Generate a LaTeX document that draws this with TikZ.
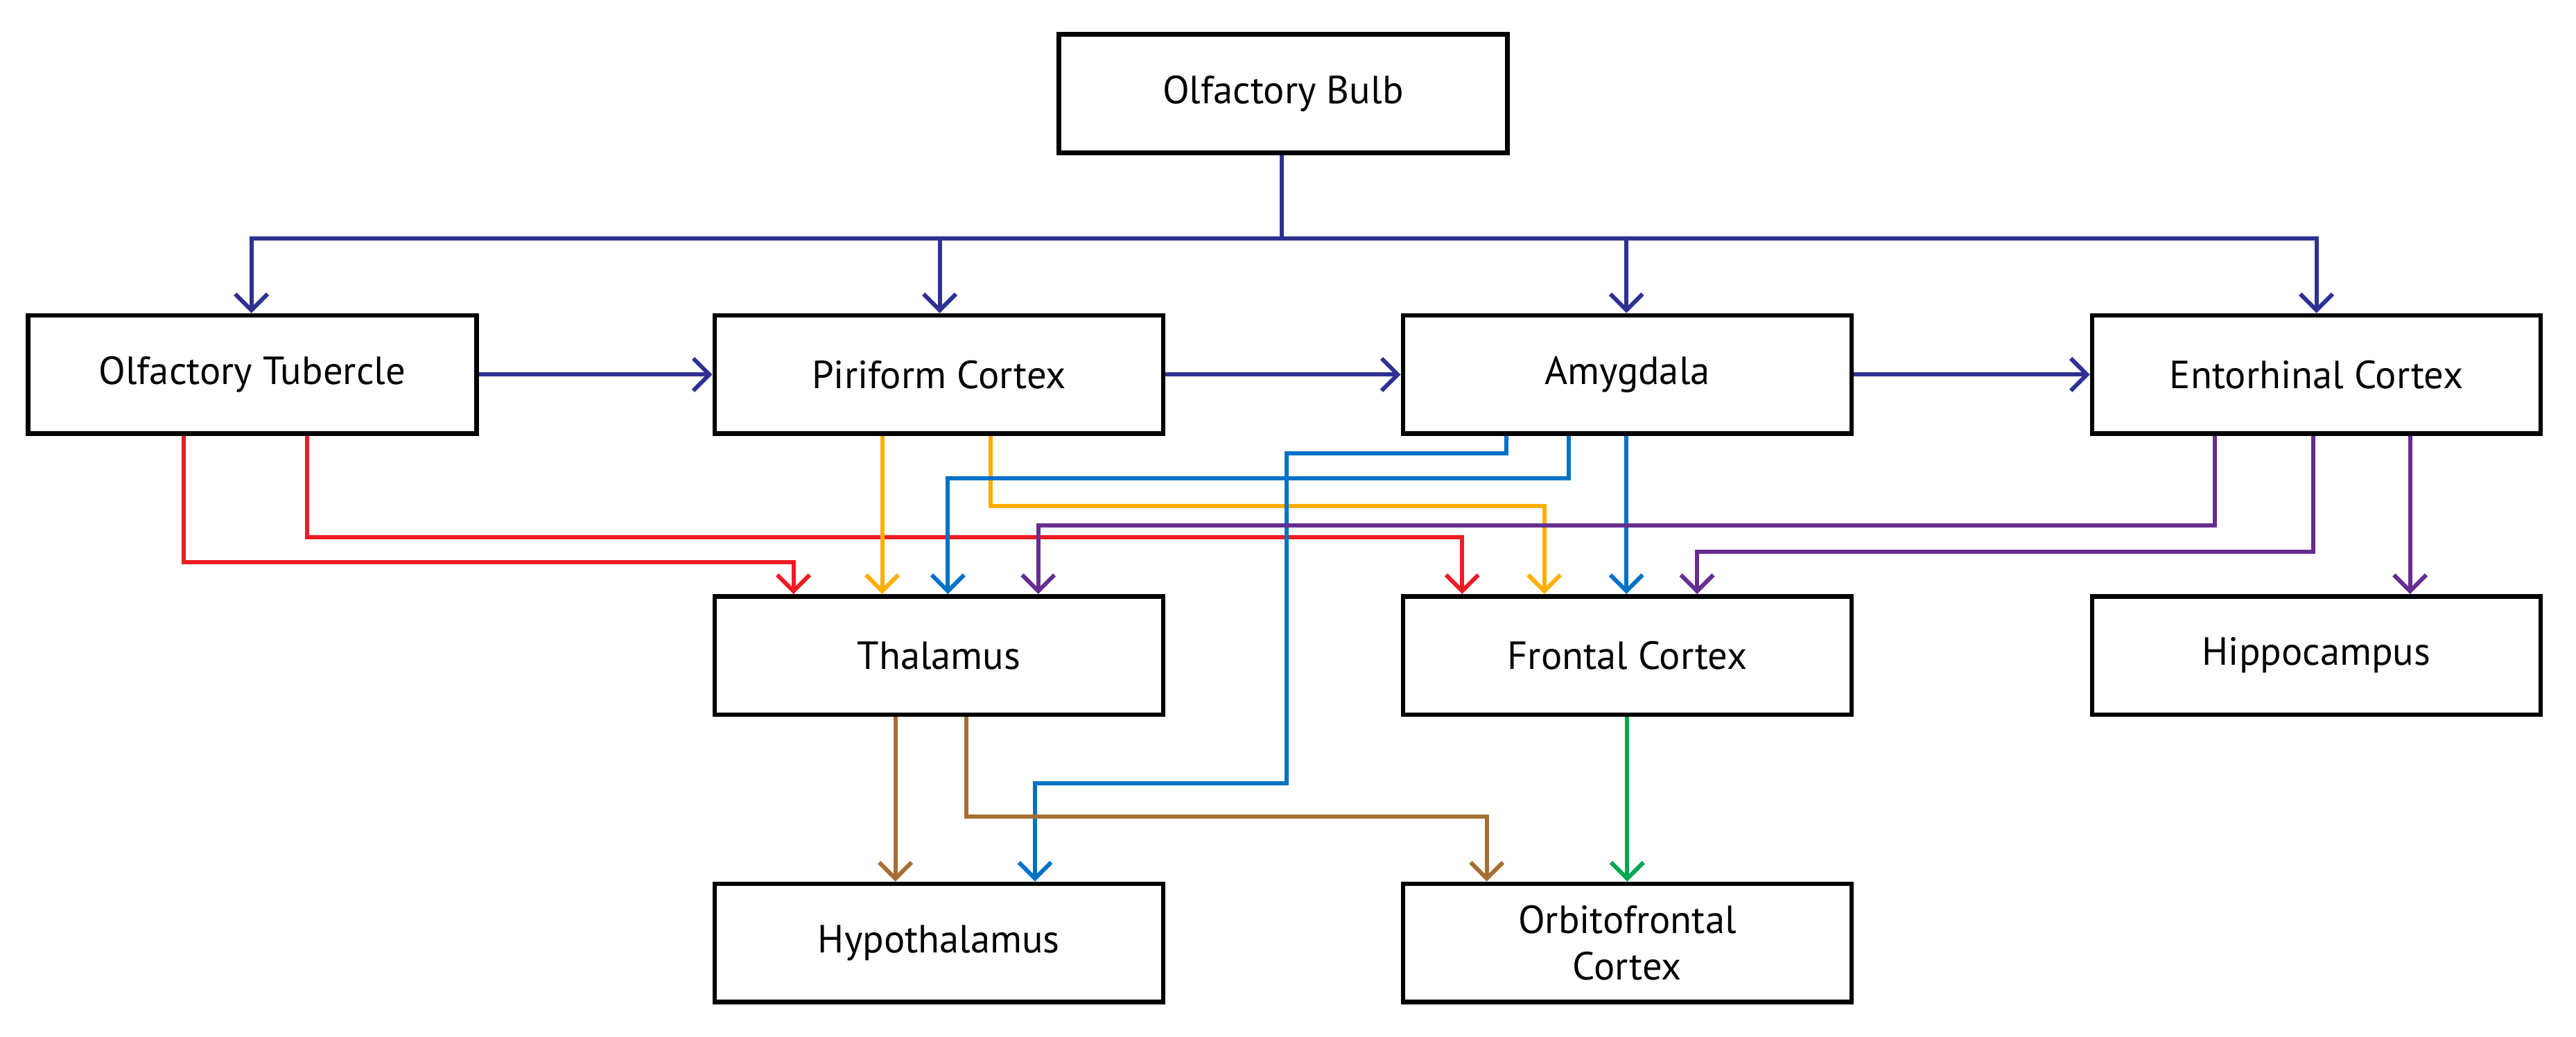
\documentclass[tikz,border=0pt]{standalone}
\usepackage{fontspec}
\setmainfont{PT Sans}
\usetikzlibrary{arrows.meta}
\definecolor{navy}{RGB}{46,49,146}
\definecolor{cred}{RGB}{237,28,36}
\definecolor{corange}{RGB}{255,174,0}
\definecolor{cblue}{RGB}{0,114,198}
\definecolor{cpurple}{RGB}{102,45,145}
\definecolor{cbrown}{RGB}{166,110,50}
\definecolor{cgreen}{RGB}{0,166,81}
\begin{document}
\begin{tikzpicture}[x=0.025cm,y=-0.025cm,
  box/.style={draw,line width=2pt,minimum width=273*0.025cm,minimum height=72*0.025cm,font=\fontsize{17}{20}\selectfont,align=center,inner sep=0pt},
  con/.style={line width=1.8pt,-{Straight Barb[length=7pt,width=14pt,line width=1.8pt]}}]
\useasboundingbox (0,0) rectangle (1568,631);
\node[box] (ob) at (781,57) {Olfactory Bulb};
\node[box] (ot) at (153.5,228) {Olfactory Tubercle};
\node[box] (pc) at (571.5,228) {Piriform Cortex};
\node[box] (am) at (990.5,228) {Amygdala};
\node[box] (ec) at (1410,228) {Entorhinal Cortex};
\node[box] (th) at (571.5,399) {Thalamus};
\node[box] (fc) at (990.5,399) {Frontal Cortex};
\node[box] (hc) at (1410,399) {Hippocampus};
\node[box] (hy) at (571.5,574) {Hypothalamus};
\node[box] (of) at (990.5,574) {Orbitofrontal\\Cortex};
\coordinate (j) at (780,145);
% navy
\draw[line width=1.8pt,navy] (ob.south -| j) -- (j);
\foreach \n/\x in {ot/153,pc/572,am/990,ec/1410}
  \draw[con,navy] (j) -| (\x,145) -- (\n.north -| \x,0);
\draw[con,navy] (ot) -- (pc);
\draw[con,navy] (pc) -- (am);
\draw[con,navy] (am) -- (ec);
% red
\draw[con,cred] (ot.south -| 112,0) |- (483,342) -- (th.north -| 483,0);
\draw[con,cred] (ot.south -| 187,0) |- (890,327) -- (fc.north -| 890,0);
% orange
\draw[con,corange] (pc.south -| 537,0) -- (th.north -| 537,0);
\draw[con,corange] (pc.south -| 603,0) |- (940,308) -- (fc.north -| 940,0);
% blue
\draw[con,cblue] (am.south -| 955,0) |- (577,291) -- (th.north -| 577,0);
\draw[con,cblue] (am.south -| 917,0) |- (783,276) |- (630,477) -- (hy.north -| 630,0);
\draw[con,cblue] (am.south -| 990,0) -- (fc.north -| 990,0);
% purple
\draw[con,cpurple] (ec.south -| 1348,0) |- (632,320) -- (th.north -| 632,0);
\draw[con,cpurple] (ec.south -| 1408,0) |- (1033,336) -- (fc.north -| 1033,0);
\draw[con,cpurple] (ec.south -| 1467,0) -- (hc.north -| 1467,0);
% brown
\draw[con,cbrown] (th.south -| 545,0) -- (hy.north -| 545,0);
\draw[con,cbrown] (th.south -| 588,0) |- (905,497) -- (of.north -| 905,0);
% green
\draw[con,cgreen] (fc) -- (of);
\end{tikzpicture}
\end{document}
